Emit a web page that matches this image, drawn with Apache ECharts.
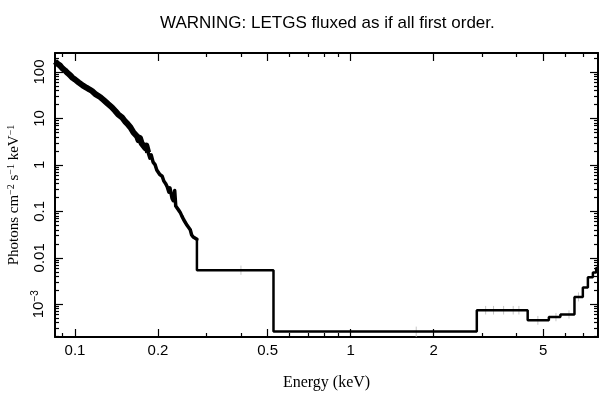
<!DOCTYPE html>
<html>
<head>
<meta charset="utf-8">
<title>LETGS fluxed spectrum</title>
<script src="https://cdn.jsdelivr.net/npm/echarts@6/dist/echarts.min.js"></script>
<style>
  html, body { margin: 0; padding: 0; background: #fff; }
  #chart { width: 609px; height: 399px; }
</style>
</head>
<body>
<div id="chart"></div>
<script>
// axis ranges (keV, photons cm^-2 s^-1 keV^-1)
const xMin = 0.0846
const xMax = 7.9
const yMin = 1.97e-4
const yMax = 257

// tick positions and labels
const xMajor = [0.1, 0.2, 0.5, 1, 2, 5]
const xLabels = ['0.1', '0.2', '0.5', '1', '2', '5']
const xMinor = [0.09, 0.3, 0.4, 0.6, 0.7, 0.8, 0.9, 3, 4, 6, 7]
const yMajor = [1e-3, 0.01, 0.1, 1, 10, 100]
const yLabels = ['10{sup|−3}', '0.01', '0.1', '1', '10', '100']
const yMinor = [
  2e-4, 3e-4, 4e-4, 5e-4, 6e-4, 7e-4, 8e-4, 9e-4,
  0.002, 0.003, 0.004, 0.005, 0.006, 0.007, 0.008, 0.009,
  0.02, 0.03, 0.04, 0.05, 0.06, 0.07, 0.08, 0.09,
  0.2, 0.3, 0.4, 0.5, 0.6, 0.7, 0.8, 0.9,
  2, 3, 4, 5, 6, 7, 8, 9,
  20, 30, 40, 50, 60, 70, 80, 90, 200
]

// dense low-energy part (thick band)
const denseE = [0.0846, 0.0865, 0.0882, 0.0900, 0.0920, 0.0940, 0.0959, 0.0980, 0.1000,
  0.1030, 0.1069, 0.1100, 0.1130, 0.1153, 0.1190, 0.1233, 0.1270, 0.1318, 0.1360,
  0.1400, 0.1433, 0.1480, 0.1520, 0.1546, 0.1590, 0.1630, 0.1681, 0.1700, 0.1720,
  0.1745, 0.1770, 0.1800, 0.1815, 0.1842]
const denseF = [168, 150, 138, 120, 108, 95, 86, 75, 69,
  60, 51, 46, 42, 39, 33, 29, 25, 20.5, 17.5,
  14.5, 12.3, 10.6, 8.6, 7.8, 6.4, 5.0, 4.1, 3.4, 3.8,
  2.9, 3.0, 2.3, 2.6, 1.85]

// noisy tail of the dense part
const tailE = [0.1842, 0.1870, 0.1890, 0.1920, 0.1954, 0.1980, 0.2000, 0.2030, 0.2072,
  0.2100, 0.2130, 0.2160, 0.2190, 0.2210, 0.2250, 0.2272, 0.2300, 0.2320, 0.2350,
  0.2380, 0.2408, 0.2440, 0.2480, 0.2510, 0.2550, 0.2580, 0.2619, 0.2650, 0.2684,
  0.2720, 0.2769]
const tailF = [1.85, 1.4, 1.65, 1.15, 1.0, 0.78, 0.85, 0.62, 0.57,
  0.45, 0.40, 0.34, 0.26, 0.32, 0.19, 0.17, 0.28, 0.13, 0.12,
  0.105, 0.095, 0.08, 0.066, 0.060, 0.050, 0.046, 0.040, 0.031, 0.028,
  0.026, 0.025]

// wide bins above 0.28 keV (upper edge, flux)
const binHi = [0.525, 2.87, 4.39, 5.24, 5.77, 6.49, 6.96, 7.26, 7.57, 7.78, 7.9]
const binF = [0.0054, 2.6e-4, 7.4e-4, 4.5e-4, 5.3e-4, 6.0e-4, 1.43e-3, 2.28e-3, 3.8e-3, 4.8e-3, 6.0e-3]

// faint error bars
const errE = [0.40, 1.73, 3.09, 3.30, 3.59, 3.89, 4.08, 4.78, 5.56, 6.2, 6.71]
const errLo = [0.0043, 2.0e-4, 6.0e-4, 6.0e-4, 6.0e-4, 6.0e-4, 6.0e-4, 3.6e-4, 4.3e-4, 4.9e-4, 1.15e-3]
const errHi = [0.0068, 3.3e-4, 9.2e-4, 9.2e-4, 9.2e-4, 9.2e-4, 9.2e-4, 5.6e-4, 6.5e-4, 7.4e-4, 1.8e-3]

const sansFont = '"Liberation Sans", Arial, sans-serif'
const serifFont = '"Liberation Serif", "Times New Roman", serif'

function findLabel(values, labels, v) {
  for (let i = 0; i < values.length; i++) {
    if (Math.abs(Math.log10(v) - Math.log10(values[i])) < 0.01) return labels[i]
  }
  return ''
}

function xAxisOf(position, ticks, len, withLine, withLabel) {
  return {
    type: 'log',
    logBase: 10,
    min: xMin,
    max: xMax,
    position: position,
    gridIndex: 0,
    axisLine: { show: withLine, onZero: false, lineStyle: { color: '#000', width: 2 } },
    axisTick: { show: true, inside: true, length: len, customValues: ticks, lineStyle: { color: '#000', width: 1.2 } },
    axisLabel: {
      show: withLabel,
      customValues: xMajor,
      margin: 6,
      color: '#000',
      fontSize: 15,
      fontFamily: sansFont,
      formatter: v => findLabel(xMajor, xLabels, v)
    },
    splitLine: { show: false },
    minorTick: { show: false },
    name: withLabel ? 'Energy (keV)' : '',
    nameLocation: 'middle',
    nameGap: 38,
    nameTextStyle: { color: '#000', fontSize: 16, fontFamily: serifFont }
  }
}

function yAxisOf(position, ticks, len, withLine, withLabel) {
  return {
    type: 'log',
    logBase: 10,
    min: yMin,
    max: yMax,
    position: position,
    gridIndex: 0,
    axisLine: { show: withLine, onZero: false, lineStyle: { color: '#000', width: 2 } },
    axisTick: { show: true, inside: true, length: len, customValues: ticks, lineStyle: { color: '#000', width: 1.2 } },
    axisLabel: {
      show: withLabel,
      customValues: yMajor,
      rotate: 90,
      margin: 8,
      color: '#000',
      fontSize: 15,
      fontFamily: sansFont,
      formatter: v => findLabel(yMajor, yLabels, v),
      rich: {
        sup: { fontSize: 10, fontFamily: sansFont, color: '#000', verticalAlign: 'top', padding: [0, 0, 7, 0] }
      }
    },
    splitLine: { show: false },
    minorTick: { show: false },
    name: withLabel ? 'Photons cm{sup|−2} s{sup|−1} keV{sup|−1}' : '',
    nameLocation: 'middle',
    nameRotate: 90,
    nameGap: 32,
    nameTextStyle: {
      color: '#000',
      fontSize: 15,
      fontFamily: serifFont,
      rich: {
        sup: { fontSize: 10, fontFamily: serifFont, color: '#000', verticalAlign: 'top', padding: [0, 0, 7, 0] }
      }
    }
  }
}

const densePts = denseE.map((e, i) => [e, denseF[i]])
const tailPts = tailE.map((e, i) => [e, tailF[i]])
const stepPts = [[tailE[tailE.length - 1], tailF[tailF.length - 1]]].concat(binHi.map((e, i) => [e, binF[i]]))
const errPts = errE.map((e, i) => [e, errLo[i], errHi[i]])

const chart = echarts.init(document.getElementById('chart'), null, { renderer: 'canvas' })
chart.setOption({
  animation: false,
  backgroundColor: '#fff',
  title: {
    text: 'WARNING: LETGS fluxed as if all first order.',
    left: 155,
    top: 10,
    textStyle: { color: '#000', fontSize: 17, fontWeight: 'normal', fontFamily: sansFont }
  },
  grid: { left: 55, right: 11, top: 53, bottom: 62, containLabel: false, outerBoundsMode: 'none' },
  xAxis: [
    xAxisOf('bottom', xMajor, 8, true, true),
    xAxisOf('bottom', xMinor, 4, false, false),
    xAxisOf('top', xMajor, 8, true, false),
    xAxisOf('top', xMinor, 4, false, false)
  ],
  yAxis: [
    yAxisOf('left', yMajor, 8, true, true),
    yAxisOf('left', yMinor, 4, false, false),
    yAxisOf('right', yMajor, 8, true, false),
    yAxisOf('right', yMinor, 4, false, false)
  ],
  series: [
    {
      type: 'custom',
      xAxisIndex: 0,
      yAxisIndex: 0,
      z: 1,
      data: errPts,
      renderItem: (params, api) => {
        const p1 = api.coord([api.value(0), api.value(1)])
        const p2 = api.coord([api.value(0), api.value(2)])
        return {
          type: 'line',
          shape: { x1: p1[0], y1: p1[1], x2: p2[0], y2: p2[1] },
          style: { stroke: '#c8c8c8', lineWidth: 1 }
        }
      }
    },
    {
      type: 'line',
      xAxisIndex: 0,
      yAxisIndex: 0,
      z: 3,
      data: densePts,
      showSymbol: false,
      lineStyle: { color: '#000', width: 6, cap: 'butt', join: 'round' }
    },
    {
      type: 'line',
      xAxisIndex: 0,
      yAxisIndex: 0,
      z: 3,
      data: tailPts,
      showSymbol: false,
      lineStyle: { color: '#000', width: 3.5, cap: 'round', join: 'round' }
    },
    {
      type: 'line',
      xAxisIndex: 0,
      yAxisIndex: 0,
      z: 3,
      step: 'start',
      data: stepPts,
      showSymbol: false,
      lineStyle: { color: '#000', width: 2.5 }
    }
  ]
})
</script>
</body>
</html>
